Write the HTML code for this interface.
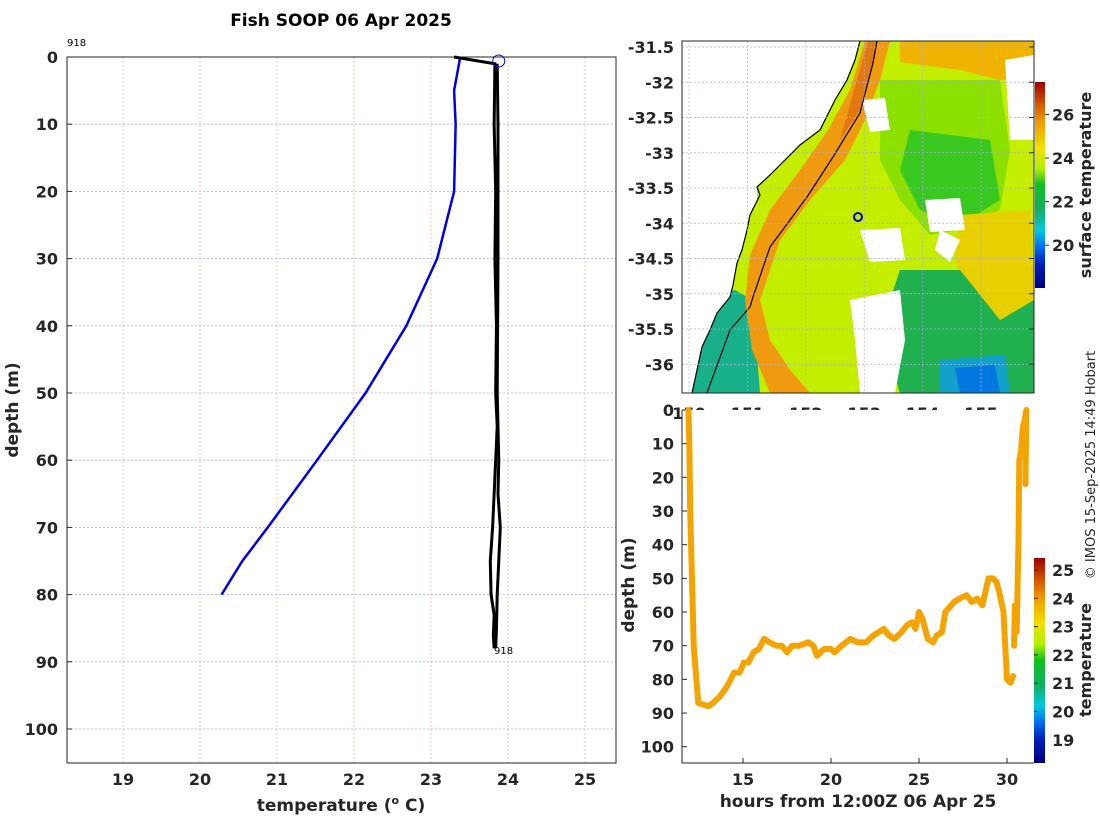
<!DOCTYPE html>
<html><head><meta charset="utf-8">
<style>
html,body{margin:0;padding:0;background:#fff;}
svg{display:block;font-family:"DejaVu Sans","Liberation Sans",sans-serif;}
.tk{font-size:16px;font-weight:bold;fill:#262626;}
.lab{font-size:17px;font-weight:bold;fill:#262626;}
</style></head>
<body>
<svg id="fig" width="1100" height="820" viewBox="0 0 1100 820">
<defs>
<linearGradient id="cb1" x1="0" y1="1" x2="0" y2="0">
<stop offset="0" stop-color="#00007f"/><stop offset="0.12" stop-color="#0020c0"/><stop offset="0.2" stop-color="#0070f0"/><stop offset="0.28" stop-color="#00c8e0"/><stop offset="0.38" stop-color="#10b060"/><stop offset="0.5" stop-color="#10c020"/><stop offset="0.58" stop-color="#b0f000"/><stop offset="0.68" stop-color="#f0e000"/><stop offset="0.8" stop-color="#f0a000"/><stop offset="0.9" stop-color="#d05000"/><stop offset="1" stop-color="#a00000"/>
</linearGradient>
<clipPath id="mapclip"><rect x="682" y="41" width="352" height="352"/></clipPath>
</defs>
<text x="341" y="26" text-anchor="middle" style="font-size:17px;font-weight:bold">Fish SOOP 06 Apr 2025</text>
<g id="left"></g>
<g id="map"></g>
<g id="br"></g>
<text transform="translate(1095,465) rotate(-90)" text-anchor="middle" style="font-size:13px;fill:#262626">© IMOS 15-Sep-2025 14:49 Hobart</text>
</svg>
<script>
// ---- profile data ----
const xbtTemps = [23.38,23.3,23.32,23.3,23.08,22.68,22.15,21.52,20.88,20.55,20.28];
const xbtDepths = [0,5,10,20,30,40,50,60,70,75,80];
const ctdTemps = [23.3,23.83,23.82,23.84,23.83,23.85,23.84,23.86,23.82,23.8,23.77,23.78,23.82,23.81,23.82];
const ctdDepths = [0,1,10,20,30,40,50,55,65,70,75,80,83,86,88];
const ctdTemps2 = [23.86,23.87,23.87,23.86,23.88,23.87,23.9,23.88,23.86,23.85,23.84];
const ctdDepths2 = [1,10,30,50,60,65,70,75,80,85,88];
const xTicks1 = [19,20,21,22,23,24,25];
const yTicks = [0,10,20,30,40,50,60,70,80,90,100];
// ---- time series data ----
const hours = [11.9,11.95,12.0,12.1,12.2,12.35,12.46,13.03,13.3,13.7,14.1,14.5,14.8,15.05,15.3,15.6,15.9,16.2,16.5,16.9,17.2,17.5,17.8,18.2,18.7,19.0,19.2,19.6,20.0,20.2,20.6,21.1,21.5,22.0,22.4,22.7,23.0,23.3,23.6,24.0,24.3,24.6,24.8,25.0,25.2,25.5,25.8,26.0,26.3,26.5,27.0,27.3,27.7,28.0,28.3,28.6,28.95,29.2,29.4,29.6,29.8,30.0,30.2,30.35];
const depthsTS = [0,10,30,50,70,80,87,88,87,85,82,78,78,75,75,72,71,68,69,70,70,72,70,70,69,70,73,71,71,72,70,68,69,69,67,66,65,67,68,66,64,63,65,60,62,68,69,67,66,60,57,56,55,57,56,58,50,50,51,55,60,80,81,79];
const hours2 = [30.4,30.45,30.5,30.55,30.65,30.7,30.8,30.9,31.0,31.1,31.05];
const depthsTS2 = [70,58,60,66,40,15,12,5,3,0,22];
const xTicks2 = [15,20,25,30];
// ---- map data ----
const latTicks = [-31.5,-32,-32.5,-33,-33.5,-34,-34.5,-35,-35.5,-36];
const lonTicks = [150,151,152,153,154,155];
const cb1Ticks = [20,22,24,26];
const cb2Ticks = [19,20,21,22,23,24,25];

const NS='http://www.w3.org/2000/svg';
function mk(p,tag,a){const e=document.createElementNS(NS,tag);for(const k in a)e.setAttribute(k,a[k]);p.appendChild(e);return e;}

// ===== left profile =====
const L=document.getElementById('left');
const x1=t=>123+(t-19)*77, y1=d=>57+d*6.72;
for(const t of xTicks1){const g=mk(L,'line',{x1:x1(t),x2:x1(t),y1:57,y2:763,stroke:'#e3b898','stroke-dasharray':'2,2','stroke-width':0.8});

const tx=mk(L,'text',{x:x1(t),y:785,'text-anchor':'middle',class:'tk'});tx.textContent=t;
}
for(const d of yTicks){const g=mk(L,'line',{x1:67,x2:616,y1:y1(d),y2:y1(d),stroke:'#a8b0e4','stroke-dasharray':'2,2','stroke-width':0.8});

mk(L,'line',{x1:67,x2:72,y1:y1(d),y2:y1(d),stroke:'#262626'});
const tx=mk(L,'text',{x:58,y:y1(d)+6,'text-anchor':'end',class:'tk'});tx.textContent=d;
}
const box=mk(L,'rect',{x:67,y:57,width:549,height:706,fill:'none',stroke:'#262626','stroke-width':1});

const xb=mk(L,'polyline',{points:xbtTemps.map((t,i)=>x1(t)+','+y1(xbtDepths[i])).join(' '),fill:'none',stroke:'#0000e6','stroke-width':2.5});

const c1=mk(L,'polyline',{points:ctdTemps.map((t,i)=>x1(t)+','+y1(ctdDepths[i])).join(' '),fill:'none',stroke:'#000','stroke-width':3});

const c2=mk(L,'polyline',{points:ctdTemps2.map((t,i)=>x1(t)+','+y1(ctdDepths2[i])).join(' '),fill:'none',stroke:'#000','stroke-width':3});

const cir=mk(L,'circle',{cx:x1(23.88),cy:y1(0.6),r:6,fill:'none',stroke:'#0000e6','stroke-width':1});

let t=mk(L,'text',{x:67,y:46,style:'font-size:10px'});t.textContent='918';

t=mk(L,'text',{x:494,y:654,style:'font-size:10px'});t.textContent='918';

t=mk(L,'text',{transform:'translate(18,410) rotate(-90)','text-anchor':'middle',class:'lab'});t.textContent='depth (m)';

t=mk(L,'text',{x:341,y:811,'text-anchor':'middle',class:'lab'});t.innerHTML='temperature (<tspan dy="-7" style="font-size:11px">o</tspan><tspan dy="7"> C)</tspan>';


// ===== map =====
const M=document.getElementById('map');
const mx=lon=>689+(lon-150)*58.4, my=lat=>47+(-31.5-lat)*70.5;
const G=mk(M,'g',{'clip-path':'url(#mapclip)'});
function poly(pts,fill,name){const p=mk(G,'polygon',{points:pts,fill:fill});return p;}
poly('682,41 1034,41 1034,393 682,393','#c4ee00','sst-background');
poly('900,41 1034,41 1034,75 1000,80 960,70 900,62','#f0b400','sst-warm-north');
poly('880,80 1000,80 1010,150 1000,210 960,230 930,235 900,200 880,160','#8ce000','sst-green-north');
poly('910,130 990,140 1000,200 960,225 920,210 900,170','#38c820','sst-green-core');
poly('960,215 1030,210 1034,300 1000,320 965,300 955,260','#e8d000','sst-yellow-east');
poly('900,270 960,270 1000,320 1034,300 1034,393 900,393 880,330','#20b050','sst-green-south');
poly('940,360 1005,355 1010,393 940,393','#10a0c8','sst-cool-patch');
poly('955,368 995,365 1000,393 960,393','#0078e0','sst-cold-patch');
poly('682,300 735,290 752,300 755,330 760,393 682,393','#18b088','sst-teal-shelf');
poly('865,41 890,41 880,80 865,120 845,160 810,200 780,240 770,270 760,300 770,340 790,370 810,393 770,393 752,350 745,300 750,255 770,210 800,170 828,130 850,90','#f09a10','sst-warm-current');
poly('868,41 878,41 872,70 860,110 840,140','#e07a10','sst-warm-core');
poly('862,100 885,98 890,130 870,132','#ffffff','cloud-gap');
poly('925,200 960,198 965,230 930,232','#ffffff','cloud-gap');
poly('860,230 900,228 905,260 870,262','#ffffff','cloud-gap');
poly('1005,60 1034,55 1034,140 1010,140','#ffffff','cloud-gap');
poly('850,300 900,290 905,340 895,393 860,393 855,340','#ffffff','cloud-gap');
poly('940,230 960,240 950,262 935,250','#ffffff','cloud-gap');
poly('682,41 860,41 855,60 847,80 835,100 820,130 800,145 785,160 770,175 757,187 757,200 750,215 747,230 742,250 737,263 733,285 730,297 717,313 710,330 702,347 697,370 692,393 682,393','#ffffff','land');
const coast=mk(G,'polyline',{points:'860,41 855,60 847,80 835,100 820,130 800,145 785,160 770,175 757,187 760,195 750,215 747,230 742,250 737,263 733,285 730,297 717,313 710,330 702,347 697,370 692,393',fill:'none',stroke:'#000','stroke-width':1.2});

const iso=mk(G,'polyline',{points:'877,41 873,63 860,113 833,157 807,197 770,247 753,297 750,307 730,330 707,393',fill:'none',stroke:'#000','stroke-width':1.2});

for(const lo of lonTicks){const g=mk(G,'line',{x1:mx(lo),x2:mx(lo),y1:41,y2:393,stroke:'#a8b0e4','stroke-dasharray':'2,2','stroke-width':0.7});
}
for(const la of latTicks){const g=mk(G,'line',{x1:682,x2:1034,y1:my(la),y2:my(la),stroke:'#a8b0e4','stroke-dasharray':'2,2','stroke-width':0.7});

mk(M,'line',{x1:1029,x2:1034,y1:my(la),y2:my(la),stroke:'#262626'});
const tx=mk(M,'text',{x:674,y:my(la)+6,'text-anchor':'end',class:'tk'});tx.textContent=la;
}
for(const lo of lonTicks){const tx=mk(M,'text',{x:mx(lo),y:419,'text-anchor':'middle',class:'tk'});tx.textContent=lo;
}
const ship=mk(M,'circle',{cx:858,cy:217,r:4,fill:'none',stroke:'#0000e6','stroke-width':2});

mk(M,'rect',{x:682,y:41,width:352,height:352,fill:'none',stroke:'#262626'});
const cb1y=v=>158-(v-24)*21.8;
const cb=mk(M,'rect',{x:1035,y:82,width:10,height:206,fill:'url(#cb1)'});

for(const v of cb1Ticks){mk(M,'line',{x1:1045,x2:1049,y1:cb1y(v),y2:cb1y(v),stroke:'#262626'});
const tx=mk(M,'text',{x:1052,y:cb1y(v)+6,class:'tk'});tx.textContent=v;
}
t=mk(M,'text',{transform:'translate(1091,185) rotate(-90)','text-anchor':'middle',class:'lab',style:'font-size:16px'});t.textContent='surface temperature';


// ===== bottom right =====
const B=document.getElementById('br');
mk(B,'rect',{x:682,y:410,width:352,height:353,fill:'#fff'});
const x2=h=>743+(h-15)*17.6, y2=d=>410+d*3.367;
for(const h of xTicks2){mk(B,'line',{x1:x2(h),x2:x2(h),y1:763,y2:758,stroke:'#262626'});
const tx=mk(B,'text',{x:x2(h),y:785,'text-anchor':'middle',class:'tk'});tx.textContent=h;
}
for(const d of yTicks){mk(B,'line',{x1:682,x2:687,y1:y2(d),y2:y2(d),stroke:'#262626'});
const tx=mk(B,'text',{x:674,y:y2(d)+6,'text-anchor':'end',class:'tk'});tx.textContent=d;
}
const tr=mk(B,'polyline',{points:hours.map((h,i)=>x2(h)+','+y2(depthsTS[i])).join(' '),fill:'none',stroke:'#f5a300','stroke-width':6,'stroke-linejoin':'round','stroke-linecap':'round'});

const tr2=mk(B,'polyline',{points:hours2.map((h,i)=>x2(h)+','+y2(depthsTS2[i])).join(' '),fill:'none',stroke:'#f5a300','stroke-width':6,'stroke-linejoin':'round','stroke-linecap':'round'});

mk(B,'polyline',{points:'682,410 682,763 1034,763',fill:'none',stroke:'#262626'});
const cb2y=v=>570+(25-v)*28.3;
const cbb=mk(B,'rect',{x:1034,y:558,width:11,height:205,fill:'url(#cb1)'});

for(const v of cb2Ticks){mk(B,'line',{x1:1034,x2:1038,y1:cb2y(v),y2:cb2y(v),stroke:'#262626'});
const tx=mk(B,'text',{x:1052,y:cb2y(v)+6,class:'tk'});tx.textContent=v;
}
t=mk(B,'text',{transform:'translate(1091,660) rotate(-90)','text-anchor':'middle',class:'lab',style:'font-size:16px'});t.textContent='temperature';

t=mk(B,'text',{transform:'translate(634,585) rotate(-90)','text-anchor':'middle',class:'lab'});t.textContent='depth (m)';

t=mk(B,'text',{x:858,y:807,'text-anchor':'middle',class:'lab'});t.textContent='hours from 12:00Z 06 Apr 25';

</script>
</body></html>
